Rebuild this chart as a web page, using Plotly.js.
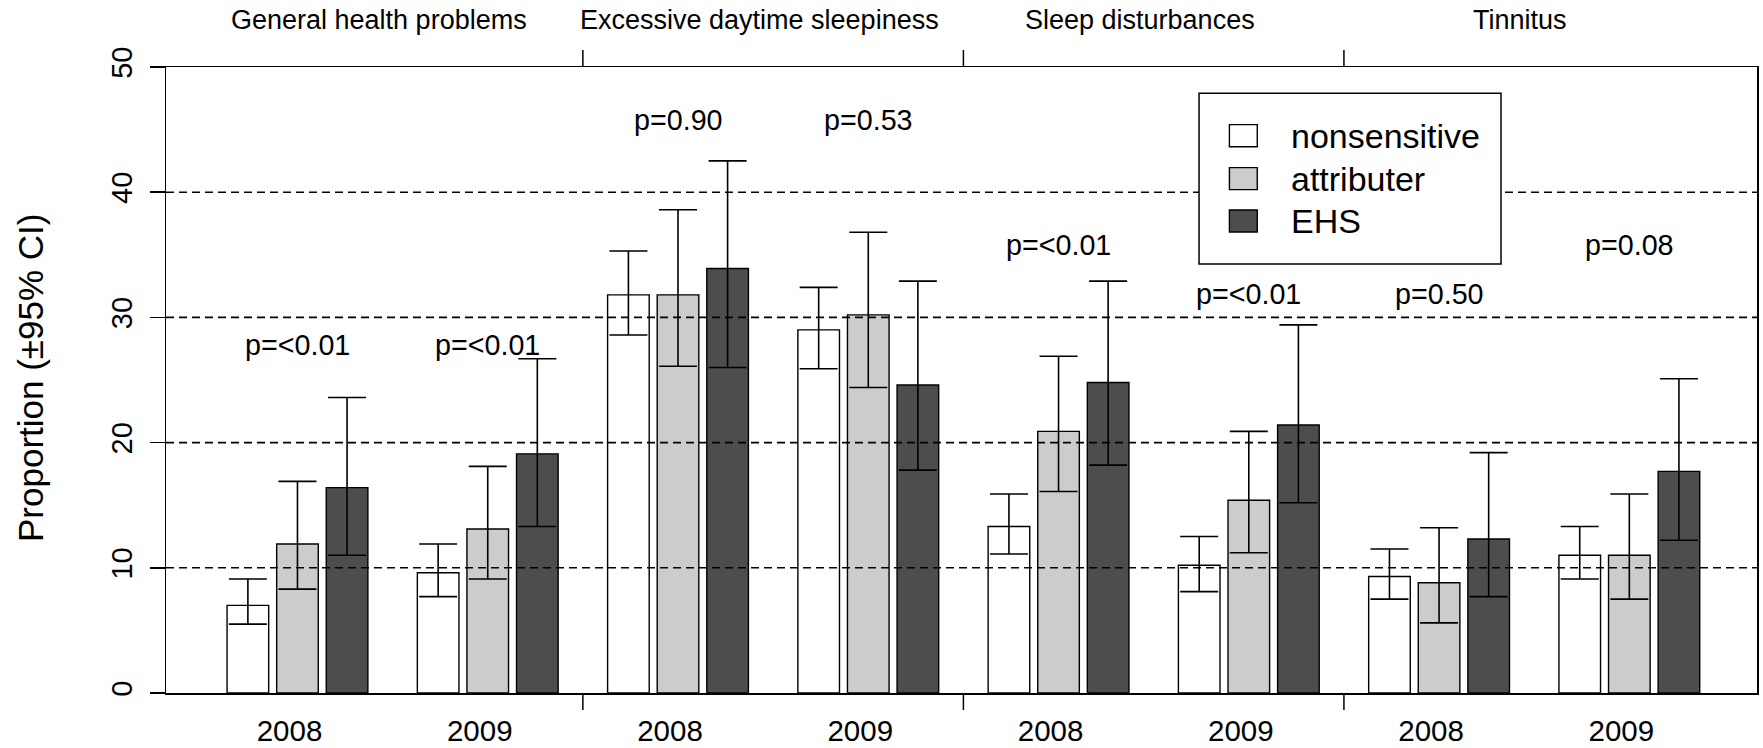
<!DOCTYPE html>
<html>
<head>
<meta charset="utf-8">
<script src="https://cdn.plot.ly/plotly-3.0.1.min.js"></script>
<style>
  html, body { margin: 0; padding: 0; background: #ffffff; }
  #chart { width: 1763px; height: 748px; }
</style>
</head>
<body>
<div id="chart"></div>
<script>
// Symptom categories (two survey years each) and respondent groups
const problems = ['General health problems', 'Excessive daytime sleepiness', 'Sleep disturbances', 'Tinnitus'];
const years = ['2008', '2009'];
const groups = ['nonsensitive', 'attributer', 'EHS'];
const groupColors = ['#ffffff', '#cccccc', '#4d4d4d'];

// Proportions (%) in order: GHP 2008, GHP 2009, EDS 2008, EDS 2009, SD 2008, SD 2009, Tinnitus 2008, Tinnitus 2009
const nonsensitive      = [7.0, 9.6, 31.8, 29.0, 13.3, 10.2, 9.3, 11.0];
const nonsensitiveUpper = [9.1, 11.9, 35.3, 32.4, 15.9, 12.5, 11.5, 13.3];
const nonsensitiveLower = [5.5, 7.7, 28.6, 25.9, 11.1, 8.1, 7.5, 9.1];

const attributer      = [11.9, 13.1, 31.8, 30.2, 20.9, 15.4, 8.8, 11.0];
const attributerUpper = [16.9, 18.1, 38.6, 36.8, 26.9, 20.9, 13.2, 15.9];
const attributerLower = [8.3, 9.1, 26.1, 24.4, 16.1, 11.2, 5.6, 7.5];

const ehs      = [16.4, 19.1, 33.9, 24.6, 24.8, 21.4, 12.3, 17.7];
const ehsUpper = [23.6, 26.7, 42.5, 32.9, 32.9, 29.4, 19.2, 25.1];
const ehsLower = [11.0, 13.3, 26.0, 17.8, 18.2, 15.2, 7.7, 12.2];

// Test results printed above each year group, and the height they sit at
const pLabels = ['p=<0.01', 'p=<0.01', 'p=0.90', 'p=0.53', 'p=<0.01', 'p=<0.01', 'p=0.50', 'p=0.08'];
const pLabelY = [27.8, 27.8, 45.8, 45.8, 35.8, 31.9, 31.9, 35.8];

const yTicks = [0, 10, 20, 30, 40, 50];
const yGridLines = [10, 20, 30, 40];

const FONT = 'Liberation Sans, Arial, Helvetica, sans-serif';

// One category per (problem, year)
const categories = [];
const yearLabels = [];
problems.forEach(p => years.forEach(y => { categories.push(p + ' ' + y); yearLabels.push(y); }));

const series = [
  { v: nonsensitive, up: nonsensitiveUpper, lo: nonsensitiveLower },
  { v: attributer,   up: attributerUpper,   lo: attributerLower },
  { v: ehs,          up: ehsUpper,          lo: ehsLower }
];

const traces = series.map((s, i) => ({
  type: 'bar',
  name: groups[i],
  x: categories,
  y: s.v,
  marker: { color: groupColors[i], line: { color: '#000000', width: 1.4 } },
  error_y: {
    type: 'data',
    symmetric: false,
    array: s.up.map((u, k) => u - s.v[k]),
    arrayminus: s.v.map((v, k) => v - s.lo[k]),
    color: '#000000',
    thickness: 1.6,
    width: 19
  },
  showlegend: false,
  hoverinfo: 'skip'
}));

const shapes = [];

// Dashed reference lines, drawn over the bars
yGridLines.forEach(v => shapes.push({
  type: 'line', layer: 'above', xref: 'paper', yref: 'y',
  x0: 0, x1: 1, y0: v, y1: v,
  line: { color: '#000000', width: 1.6, dash: '8px,5px' }
}));

// Separator ticks between problems, below and above the frame
const nYears = years.length;
for (let k = 1; k < problems.length; k++) {
  const xb = k * nYears - 0.5;
  shapes.push({
    type: 'line', layer: 'above', xref: 'x', yref: 'paper', ysizemode: 'pixel', yanchor: 0,
    x0: xb, x1: xb, y0: 0, y1: -17, line: { color: '#000000', width: 1.5 }
  });
  shapes.push({
    type: 'line', layer: 'above', xref: 'x', yref: 'paper', ysizemode: 'pixel', yanchor: 1,
    x0: xb, x1: xb, y0: 0, y1: 17, line: { color: '#000000', width: 1.5 }
  });
}

// Legend box with filled keys
shapes.push({
  type: 'rect', layer: 'above', xref: 'paper', yref: 'paper',
  x0: 0.6493, x1: 0.8391, y0: 0.6853, y1: 0.958,
  fillcolor: '#ffffff', line: { color: '#000000', width: 1.5 }
});
const legendRows = [0.8903, 0.8217, 0.7540];
const keyHalf = 0.0176;
const annotations = [];
groups.forEach((g, i) => {
  shapes.push({
    type: 'rect', layer: 'above', xref: 'paper', yref: 'paper',
    x0: 0.6684, x1: 0.6859, y0: legendRows[i] - keyHalf, y1: legendRows[i] + keyHalf,
    fillcolor: groupColors[i], line: { color: '#000000', width: 1.4 }
  });
  annotations.push({
    xref: 'paper', yref: 'paper', x: 0.7058, y: legendRows[i],
    xanchor: 'left', yanchor: 'middle', showarrow: false,
    text: g, font: { family: FONT, size: 34, color: '#000000' }
  });
});

// Problem titles above the frame
problems.forEach((p, i) => annotations.push({
  xref: 'x', yref: 'paper', x: i * nYears + (nYears - 1) / 2, y: 1,
  xanchor: 'center', yanchor: 'bottom', yshift: 30, xshift: -14, showarrow: false,
  text: p, font: { family: FONT, size: 27, color: '#000000' }
}));

// p-values above each year group
pLabels.forEach((t, i) => annotations.push({
  xref: 'x', yref: 'y', x: i, y: pLabelY[i],
  xanchor: 'center', yanchor: 'middle', showarrow: false,
  text: t, font: { family: FONT, size: 28.7, color: '#000000' }
}));

// Y axis title
annotations.push({
  xref: 'paper', yref: 'paper', x: 0, y: 0.5, xshift: -136, yshift: 2,
  xanchor: 'center', yanchor: 'middle', textangle: -90, showarrow: false,
  text: 'Proportion (±95% CI)', font: { family: FONT, size: 35, color: '#000000' }
});

const layout = {
  width: 1763, height: 748,
  margin: { l: 166, r: 6, t: 67, b: 55 },
  paper_bgcolor: '#ffffff', plot_bgcolor: '#ffffff',
  font: { family: FONT, color: '#000000' },
  barmode: 'group',
  bargap: 0.218,
  bargroupgap: 0.161,
  showlegend: false,
  xaxis: {
    type: 'category',
    range: [-0.691, 7.671],
    tickmode: 'array', tickvals: categories, ticktext: yearLabels,
    ticks: '', showgrid: false, zeroline: false,
    showline: true, mirror: true, linecolor: '#000000', linewidth: 1.5,
    tickfont: { family: FONT, size: 29.5, color: '#000000' },
    ticklabelshift: -8, ticklabelstandoff: 11,
    fixedrange: true
  },
  yaxis: {
    range: [0, 50],
    tickmode: 'array', tickvals: yTicks,
    ticks: 'outside', ticklen: 15, tickwidth: 1.5, tickcolor: '#000000',
    tickangle: -90,
    showgrid: false, zeroline: false,
    showline: true, mirror: true, linecolor: '#000000', linewidth: 1.5,
    tickfont: { family: FONT, size: 29, color: '#000000' },
    ticklabelstandoff: 6,
    fixedrange: true
  },
  shapes: shapes,
  annotations: annotations
};

Plotly.newPlot('chart', traces, layout, { displayModeBar: false, staticPlot: true });
</script>
</body>
</html>
